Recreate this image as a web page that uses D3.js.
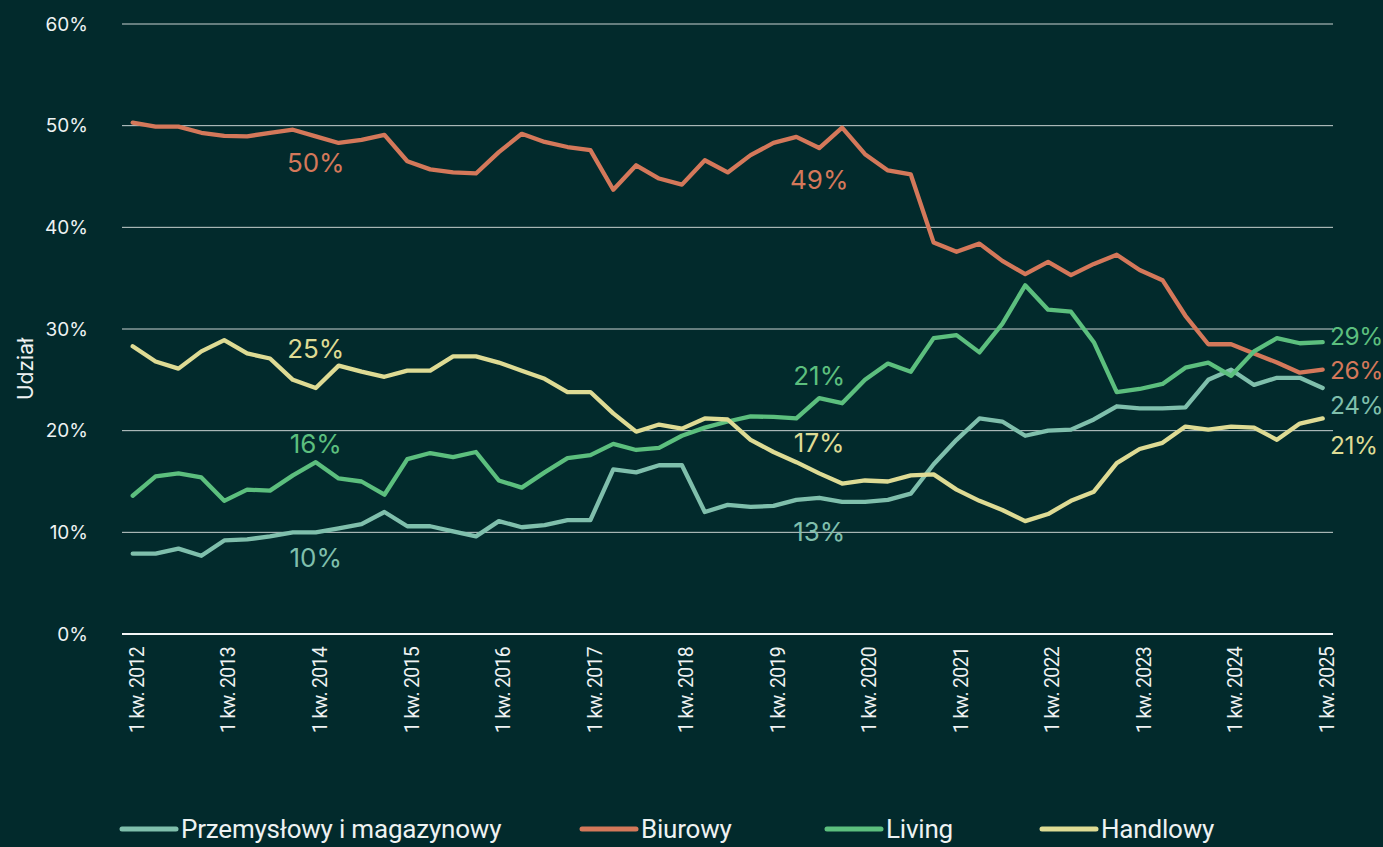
<!DOCTYPE html>
<html>
<head>
<meta charset="utf-8">
<script src="https://cdn.jsdelivr.net/npm/d3@7/dist/d3.min.js"></script>
<style>
  html, body { margin: 0; padding: 0; background: #022a2c; }
  svg { display: block; }
</style>
</head>
<body>
<svg id="chart" width="1383" height="847"></svg>
<script>
// Udział sektorów w wolumenie – dane kwartalne 1 kw. 2012 – 1 kw. 2025
const years = [2012, 2013, 2014, 2015, 2016, 2017, 2018, 2019, 2020, 2021, 2022, 2023, 2024, 2025];
const quarters = years.flatMap(y => [1, 2, 3, 4].map(q => `${q} kw. ${y}`)).slice(0, 53);

const przemyslowy = [7.9, 7.9, 8.4, 7.7, 9.2, 9.3, 9.6, 10.0, 10.0, 10.4, 10.8, 12.0, 10.6, 10.6, 10.1, 9.6,
  11.1, 10.5, 10.7, 11.2, 11.2, 16.2, 15.9, 16.6, 16.6, 12.0, 12.7, 12.5, 12.6, 13.2, 13.4, 13.0,
  13.0, 13.2, 13.8, 16.7, 19.1, 21.2, 20.9, 19.5, 20.0, 20.1, 21.1, 22.4, 22.2, 22.2, 22.3, 25.0,
  26.0, 24.5, 25.2, 25.2, 24.2];
const biurowy = [50.3, 49.9, 49.9, 49.3, 49.0, 48.95, 49.3, 49.6, 48.95, 48.3, 48.6, 49.1, 46.5, 45.7, 45.4, 45.3,
  47.4, 49.2, 48.4, 47.9, 47.6, 43.7, 46.1, 44.8, 44.2, 46.6, 45.4, 47.1, 48.3, 48.9, 47.8, 49.8,
  47.2, 45.6, 45.2, 38.5, 37.6, 38.4, 36.7, 35.4, 36.6, 35.3, 36.4, 37.3, 35.8, 34.8, 31.3, 28.5,
  28.5, 27.6, 26.7, 25.7, 26.0];
const living = [13.6, 15.5, 15.8, 15.4, 13.1, 14.2, 14.1, 15.6, 16.9, 15.3, 15.0, 13.7, 17.2, 17.8, 17.4, 17.9,
  15.1, 14.4, 15.9, 17.3, 17.6, 18.7, 18.1, 18.3, 19.5, 20.3, 20.9, 21.4, 21.35, 21.2, 23.2, 22.7,
  25.0, 26.6, 25.8, 29.1, 29.4, 27.7, 30.5, 34.3, 31.9, 31.7, 28.7, 23.8, 24.1, 24.6, 26.2, 26.7,
  25.4, 27.8, 29.1, 28.6, 28.7];
const handlowy = [28.3, 26.8, 26.1, 27.8, 28.9, 27.6, 27.1, 25.0, 24.2, 26.4, 25.8, 25.3, 25.9, 25.9, 27.3, 27.3,
  26.7, 25.9, 25.1, 23.8, 23.8, 21.7, 19.9, 20.6, 20.2, 21.2, 21.1, 19.1, 17.9, 16.9, 15.8, 14.8,
  15.1, 15.0, 15.6, 15.7, 14.2, 13.1, 12.2, 11.1, 11.8, 13.1, 14.0, 16.8, 18.2, 18.8, 20.4, 20.1,
  20.4, 20.3, 19.1, 20.7, 21.2];

const seriesNames = ["Przemysłowy i magazynowy", "Biurowy", "Living", "Handlowy"];
const seriesValues = [przemyslowy, biurowy, living, handlowy];
const seriesColors = ["#7fbfac", "#d4785a", "#5cbf7e", "#dedb94"];

const yTicks = [0, 10, 20, 30, 40, 50, 60];

// etykiety w środku wykresu: seria, kwartał, tekst
const callouts = [
  { s: 1, q: "1 kw. 2014", text: "50%" },
  { s: 1, q: "3 kw. 2019", text: "49%" },
  { s: 3, q: "1 kw. 2014", text: "25%" },
  { s: 3, q: "3 kw. 2019", text: "17%" },
  { s: 2, q: "1 kw. 2014", text: "16%" },
  { s: 2, q: "3 kw. 2019", text: "21%" },
  { s: 0, q: "1 kw. 2014", text: "10%" },
  { s: 0, q: "3 kw. 2019", text: "13%" }
];
const calloutDy = [26, 32, -39, -31, -19, -22, 25, 34];
const endLabels = ["24%", "26%", "29%", "21%"];
const endLabelY = [405, 370, 336, 445];

const svg = d3.select("#chart");

const x = d3.scalePoint().domain(quarters).range([132.7, 1322.7]);
const y = d3.scaleLinear().domain([0, 60]).range([634, 24]);

// siatka
svg.append("g")
  .selectAll("line")
  .data(yTicks.filter(t => t > 0))
  .join("line")
  .attr("x1", 122).attr("x2", 1333)
  .attr("y1", d => y(d)).attr("y2", d => y(d))
  .attr("stroke", "#c9d2d1")
  .attr("stroke-width", 1);

// oś Y
const yAxis = svg.append("g")
  .attr("transform", "translate(88,0)")
  .call(d3.axisLeft(y).tickValues(yTicks).tickSize(0).tickFormat(d => d + "%"));
yAxis.select(".domain").remove();
yAxis.selectAll("text")
  .attr("x", 0)
  .attr("fill", "#eef2f2")
  .attr("font-family", "Inter, 'Noto Sans', sans-serif")
  .attr("font-size", 19);

svg.append("text")
  .attr("transform", "translate(33,369) rotate(-90)")
  .attr("text-anchor", "middle")
  .attr("fill", "#eef2f2")
  .attr("font-family", "Inter, 'Noto Sans', sans-serif")
  .attr("font-size", 21)
  .text("Udział");

// oś X
svg.append("line")
  .attr("x1", 122).attr("x2", 1333)
  .attr("y1", y(0)).attr("y2", y(0))
  .attr("stroke", "#f4f6f6")
  .attr("stroke-width", 2);

const xAxis = svg.append("g")
  .attr("transform", `translate(0,${y(0)})`)
  .call(d3.axisBottom(x).tickValues(years.map(yr => `1 kw. ${yr}`)).tickSize(0));
xAxis.select(".domain").remove();
xAxis.selectAll("text")
  .attr("transform", "rotate(-90)")
  .attr("text-anchor", "end")
  .attr("x", -13)
  .attr("y", 0)
  .attr("dy", "0.55em")
  .attr("fill", "#eef2f2")
  .attr("font-family", "Roboto, sans-serif")
  .attr("font-size", 19.5)
  .attr("letter-spacing", -0.7);

// linie
const line = d3.line()
  .x((d, i) => x(quarters[i]))
  .y(d => y(d));

svg.append("g")
  .selectAll("path")
  .data(seriesValues)
  .join("path")
  .attr("d", d => line(d))
  .attr("fill", "none")
  .attr("stroke", (d, i) => seriesColors[i])
  .attr("stroke-width", 4.3)
  .attr("stroke-linejoin", "round")
  .attr("stroke-linecap", "round");

// etykiety wartości
svg.append("g")
  .selectAll("text")
  .data(callouts)
  .join("text")
  .attr("x", d => x(d.q))
  .attr("y", (d, i) => y(seriesValues[d.s][quarters.indexOf(d.q)]) + calloutDy[i])
  .attr("dy", "0.36em")
  .attr("text-anchor", "middle")
  .attr("fill", d => seriesColors[d.s])
  .attr("font-family", "Inter, 'Noto Sans', sans-serif")
  .attr("font-size", 26)
  .text(d => d.text);

svg.append("g")
  .selectAll("text")
  .data(endLabels)
  .join("text")
  .attr("x", 1330)
  .attr("y", (d, i) => endLabelY[i])
  .attr("dy", "0.36em")
  .attr("fill", (d, i) => seriesColors[i])
  .attr("font-family", "Inter, 'Noto Sans', sans-serif")
  .attr("font-size", 24.5)
  .attr("letter-spacing", -0.4)
  .text(d => d);

// legenda (podniesiona, aby ogonki liter mieściły się w kadrze)
const legendX = [120, 580, 825, 1040];
const legend = svg.append("g")
  .selectAll("g")
  .data(seriesNames)
  .join("g")
  .attr("transform", (d, i) => `translate(${legendX[i]},829)`);

legend.append("line")
  .attr("x1", 2).attr("x2", 56)
  .attr("stroke", (d, i) => seriesColors[i])
  .attr("stroke-width", 5)
  .attr("stroke-linecap", "round");

legend.append("text")
  .attr("x", 61)
  .attr("dy", "0.36em")
  .attr("fill", "#eef2f2")
  .attr("font-family", "Roboto, sans-serif")
  .attr("font-size", 26)
  .attr("letter-spacing", -0.2)
  .text(d => d);
</script>
</body>
</html>
